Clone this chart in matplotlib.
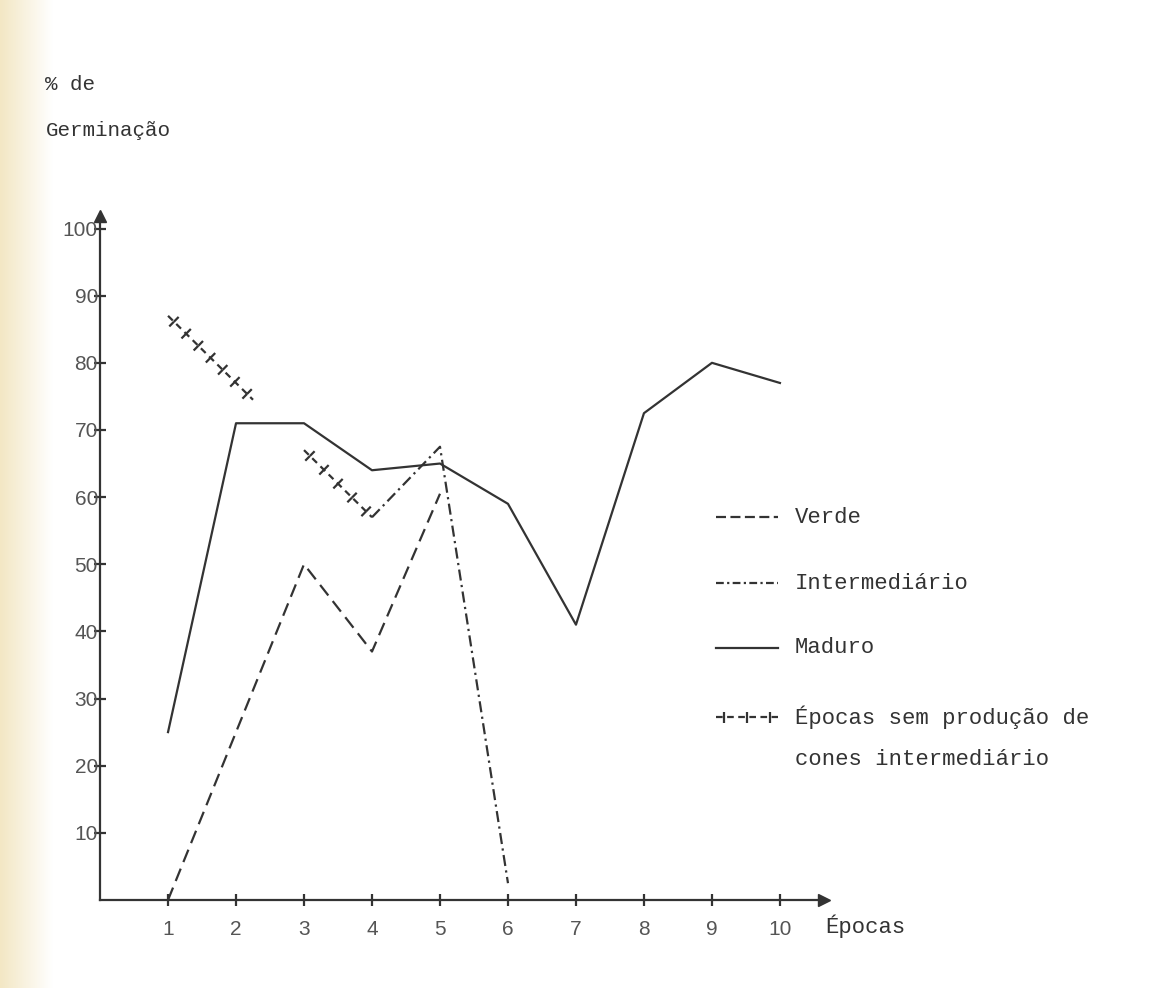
import numpy as np
import matplotlib
matplotlib.use("Agg")
import matplotlib.pyplot as plt
import matplotlib.patheffects as pe

# dados (% de germinação por época)
epocas = [1, 2, 3, 4, 5, 6, 7, 8, 9, 10]
maduro = [25, 71, 71, 64, 65, 59, 41, 72.5, 80, 77]

verde_x = [1, 2, 3, 4, 5]
verde = [0, 25, 50, 37, 60.5]

inter_x = [4, 5, 6]
intermediario = [57, 67.5, 2.5]

# épocas sem produção de cones intermediário (dois trechos)
sem_prod_a_x = [1, 2.25]
sem_prod_a = [87, 74.5]
sem_prod_b_x = [3, 4]
sem_prod_b = [67, 57]

y_ticks = [10, 20, 30, 40, 50, 60, 70, 80, 90, 100]

cor = "#333333"
mono = "Liberation Mono"

fig = plt.figure(figsize=(11.66, 9.88), dpi=100)

# faixa amarelada da borda do papel digitalizado
grad = np.linspace(1, 0, 60).reshape(1, -1)
bg = fig.add_axes([0, 0, 0.045, 1])
bg.imshow(grad, aspect="auto", cmap=matplotlib.colors.LinearSegmentedColormap.from_list(
    "papel", ["#ffffff", "#f3e7c4"]), extent=[0, 1, 0, 1])
bg.axis("off")

ax = fig.add_axes([0.0858, 0.0891, 0.621, 0.6925])
ax.set_xlim(0, 10.65)
ax.set_ylim(0, 101.9)

for s in ["top", "right"]:
    ax.spines[s].set_visible(False)
for s in ["left", "bottom"]:
    ax.spines[s].set_color(cor)
    ax.spines[s].set_linewidth(1.6)
ax.plot(1, 0, ">", color=cor, ms=9, transform=ax.get_yaxis_transform(), clip_on=False)
ax.plot(0, 1, "^", color=cor, ms=9, transform=ax.get_xaxis_transform(), clip_on=False)

ax.set_xticks(epocas)
ax.set_yticks(y_ticks)
ax.tick_params(direction="inout", length=9, width=1.6, color=cor,
               labelsize=15, labelcolor="#555555")
ax.tick_params(axis="x", pad=10)
ax.tick_params(axis="y", pad=-3)
for lab in ax.get_xticklabels() + ax.get_yticklabels():
    lab.set_family("Liberation Sans")

lw = 1.6
ax.plot(epocas, maduro, color=cor, lw=lw)
ax.plot(verde_x, verde, color=cor, lw=lw, dashes=(6, 3.2))
ax.plot(inter_x, intermediario, color=cor, lw=lw, dashes=(5, 2, 1, 2))

ticked = [pe.TickedStroke(spacing=12, angle=90, length=0.4),
          pe.TickedStroke(spacing=12, angle=-90, length=0.4),
          pe.Normal()]
for xs, ys in [(sem_prod_a_x, sem_prod_a), (sem_prod_b_x, sem_prod_b)]:
    ax.plot(xs, ys, color=cor, lw=lw, dashes=(3, 2.2), path_effects=ticked)

# legenda desenhada à mão, como no original
leg_x0, leg_x1, leg_tx = 9.06, 9.97, 10.22
ax.plot([leg_x0, leg_x1], [57, 57], color=cor, lw=lw, dashes=(4.5, 2), clip_on=False)
ax.text(leg_tx, 57, "Verde", family=mono, fontsize=16, color=cor, va="center")
ax.plot([leg_x0, leg_x1], [47.2, 47.2], color=cor, lw=lw, dashes=(3.5, 1.5, 1, 1.5), clip_on=False)
ax.text(leg_tx, 47.2, "Intermediário", family=mono, fontsize=16, color=cor, va="center")
ax.plot([leg_x0, leg_x1], [37.6, 37.6], color=cor, lw=lw, clip_on=False)
ax.text(leg_tx, 37.6, "Maduro", family=mono, fontsize=16, color=cor, va="center")
ax.plot([leg_x0, leg_x1], [27.2, 27.2], color=cor, lw=lw, dashes=(3, 2), clip_on=False,
        path_effects=[pe.TickedStroke(spacing=12, angle=90, length=0.35),
                      pe.TickedStroke(spacing=12, angle=-90, length=0.35), pe.Normal()])
ax.text(leg_tx, 27.2, "Épocas sem produção de", family=mono, fontsize=16, color=cor, va="center")
ax.text(leg_tx, 20.9, "cones intermediário", family=mono, fontsize=16, color=cor, va="center")

ax.text(10.67, -3.9, "Épocas", family=mono, fontsize=16, color=cor,
        va="center", ha="left", clip_on=False)

fig.text(0.039, 0.914, "% de", family=mono, fontsize=15, color=cor, va="center")
fig.text(0.039, 0.868, "Germinação", family=mono, fontsize=15, color=cor, va="center")

fig.savefig("out.png", dpi=100)
